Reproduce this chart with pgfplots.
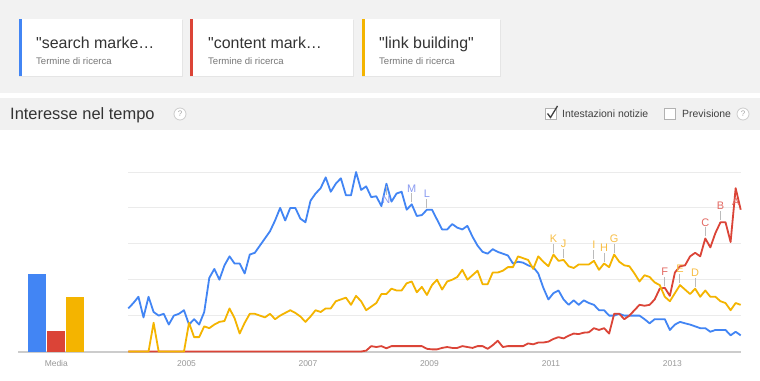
\documentclass[border=0pt]{standalone}
\usepackage{pgfplots}
\pgfplotsset{compat=1.18}
\usepackage{pgfplotstable}
\usepackage{fontspec}
\setmainfont{Liberation Sans}
\newcommand\sq{\XeTeXglyph\XeTeXcharglyph"22\relax}
\definecolor{gblue}{HTML}{4285F4}
\definecolor{gred}{HTML}{DB4437}
\definecolor{gyellow}{HTML}{F4B400}
\definecolor{bgtop}{HTML}{F2F2F2}
\definecolor{band}{HTML}{F1F1F1}
\definecolor{gridc}{HTML}{EBEBEB}
\definecolor{axisc}{HTML}{CCCCCC}
\definecolor{tickc}{HTML}{999999}
\definecolor{lblue}{HTML}{8A9BF2}
\definecolor{lyellow}{HTML}{F8BE45}
\definecolor{lred}{HTML}{E36A63}
\definecolor{stemc}{HTML}{BBBBBB}
\definecolor{txtdark}{HTML}{333333}
\definecolor{txtgray}{HTML}{777777}

\pgfplotstableread{
i b r y
0 24 0 0
1 27 0 0
2 30.5 0 0
3 19 0 0
4 30.5 0 0
5 22 0 16
6 20 0 0
7 21 0 0
8 15 0 0
9 20 0 0
10 21 0 0
11 23 0 0
12 15 0 16
13 18 0 8
14 15 0 8
15 22 0 14
16 41 0 13
17 46 0 15
18 40 0 16.5
19 48 0 17
20 53 0 24
21 49 0 18.5
22 49 0 10
23 43.5 0 16
24 54 0 21
25 55 0 21
26 59 0 20
27 63 0 19
28 67 0 21
29 73 0 18
30 80 0 20
31 73 0 21.5
32 80 0 23
33 80 0 21.5
34 74 0 19.5
35 72 0 16.5
36 84 0 19.5
37 88 0 23
38 91 0 22
39 97 0 24
40 89 0 24
41 93.5 0 28
42 96.5 0 29
43 87 0 30
44 87 0 26
45 100 0 31
46 90 0 28
47 92 0.5 23
48 86 3 25
49 86.5 2.5 27
50 81 3 32
51 93.5 1.8 32
52 83.5 3 35
53 88 3 34
54 89 3 34
55 79 3 38
56 82 3 39
57 75.5 3 33
58 76 3 36
59 79 1.5 31.5
60 79 1.2 37
61 73.5 1.2 40
62 68 2 34.5
63 68 2.5 39
64 71 2 40
65 69 2 41.5
66 68 3 45.5
67 70 2.5 40
68 64 2 42.5
69 59 3 45
70 55.5 3 37.5
71 54.5 1.5 37.5
72 57 3.5 44
73 55.5 6 44
74 54.5 2.5 45
75 53.5 3 47
76 49 3 47
77 50 3 53
78 49.5 3 52
79 48 4.5 51
80 47 4 46
81 43.5 5 53
82 35.5 5 50
83 29 5.5 47.5
84 32.5 7 54
85 34 8 50.5
86 29 7.3 51
87 26 8.8 47.5
88 28.5 10 46.5
89 26 9.7 48.5
90 28.5 10.5 48.5
91 27 10.7 48.5
92 26 13 50.5
93 23 12 45.5
94 23 13 49
95 20 10 47
96 20 21 54
97 21 21 50
98 20 18 48
99 20 20 47.5
100 20 23 43.5
101 20 26 39
102 18 25.5 42.5
103 15.7 26 41.5
104 18 29 38.5
105 18 35 37
106 18 35.5 30.5
107 12 31 28
108 15 44 32.5
109 16.5 47.5 37
110 15.7 48 34.5
111 15 53 32
112 14 55 35
113 13 53 30.5
114 13 63 34
115 11 58 30.5
116 12 66 30.5
117 12 72 28
118 12 72 27
119 9 61 23
120 11 91 27
121 9 79 26
}\trends

\begin{document}
\begin{tikzpicture}[x=1bp,y=1bp]
\path[use as bounding box] (0,0) rectangle (760,380);
\fill[white] (0,0) rectangle (760,380);
% header background
\fill[bgtop] (0,380) rectangle (760,287);
\fill[band] (0,282) rectangle (760,250);
% cards
\foreach \xa/\xb/\c in {19/182/gblue,190/353/gred,362/500/gyellow}{
  \fill[black!10] (\xa,360) rectangle (\xb+0.7,302.8);
  \fill[white] (\xa,361) rectangle (\xb,304);
  \fill[\c] (\xa,361) rectangle (\xa+3,304);
}
\node[anchor=base west,inner sep=0,font=\fontsize{16}{16}\selectfont,text=txtdark] at (36,331.5) {\sq search marke…};
\node[anchor=base west,inner sep=0,font=\fontsize{16}{16}\selectfont,text=txtdark] at (208,331.5) {\sq content mark…};
\node[anchor=base west,inner sep=0,font=\fontsize{16}{16}\selectfont,text=txtdark] at (379,331.5) {\sq link building\sq};
\foreach \xx in {36,208,379}{
  \node[anchor=base west,inner sep=0,font=\fontsize{9.6}{10}\selectfont,text=txtgray] at (\xx,316) {Termine di ricerca};
}
% title band
\node[anchor=base west,inner sep=0,font=\fontsize{16.5}{17}\selectfont,text=txtdark] at (10,260.5) {Interesse nel tempo};
\foreach \cx in {180,743}{
  \draw[axisc,fill=white,line width=0.8bp] (\cx,266) circle (6);
  \node[font=\fontsize{8}{8}\selectfont,text=black!35,inner sep=0] at (\cx,266) {?};
}
\draw[black!30,fill=white,line width=0.8bp] (545.5,271.5) rectangle (556.5,260.5);
\draw[black!75,line width=1.3bp] (547.5,266.5) -- (550.5,262.5) -- (557.5,274);
\node[anchor=base west,inner sep=0,font=\fontsize{10.5}{11}\selectfont,text=black!75] at (562,262.3) {Intestazioni notizie};
\draw[black!30,fill=white,line width=0.8bp] (664.5,271.5) rectangle (675.5,260.5);
\node[anchor=base west,inner sep=0,font=\fontsize{10.5}{11}\selectfont,text=black!75] at (682,262.3) {Previsione};
% baseline
\draw[axisc,line width=2bp] (18,28.3) -- (741,28.3);

% average bars
\begin{axis}[at={(27.8bp,28.5bp)},anchor=south west,scale only axis,
  width=57bp,height=179.5bp,xmin=-0.5,xmax=2.5,ymin=0,ymax=100,
  axis line style={draw=none},ytick=\empty,xtick={1},xticklabels={Media},
  tick style={draw=none},major tick length=0pt,
  xticklabel style={font=\fontsize{8.5}{10}\selectfont,text=tickc,yshift=-5.5bp}]
\addplot[ybar,bar width=18bp,bar shift=0pt,fill=gblue,draw=none] coordinates {(0,43)};
\addplot[ybar,bar width=18bp,bar shift=0pt,fill=gred,draw=none] coordinates {(1,11.4)};
\addplot[ybar,bar width=18bp,bar shift=0pt,fill=gyellow,draw=none] coordinates {(2,30.2)};
\end{axis}

% main chart
\begin{axis}[at={(128.3bp,28.5bp)},anchor=south west,scale only axis,
  width=612.4bp,height=179.5bp,xmin=0,xmax=121,ymin=0,ymax=100,clip=false,
  axis line style={draw=none},
  ytick={20,40,60,80,100},yticklabels={},ymajorgrids,
  major grid style={gridc,line width=1bp},
  xtick={11.5,35.5,59.5,83.5,107.5},xticklabels={2005,2007,2009,2011,2013},
  tick style={draw=none},major tick length=0pt,
  xticklabel style={font=\fontsize{8.5}{10}\selectfont,text=tickc,yshift=-5.5bp}]
\addplot[gblue,line width=1.8bp,no marks,line join=round] table[x=i,y=b] {\trends};
\addplot[gred,line width=1.8bp,no marks,line join=round] table[x=i,y=r] {\trends};
\addplot[gyellow,line width=1.8bp,no marks,line join=round] table[x=i,y=y] {\trends};
% annotations
\draw[stemc,line width=1bp] (axis cs:56,82) ++(0,2bp) -- ++(0,9bp) node[anchor=south,inner sep=0.8bp,text=lblue,font=\fontsize{11}{11}\selectfont]{M};
\draw[stemc,line width=1bp] (axis cs:59,79) ++(0,2bp) -- ++(0,9bp) node[anchor=south,inner sep=0.8bp,text=lblue,font=\fontsize{11}{11}\selectfont]{L};
\draw[stemc,line width=1bp] (axis cs:51,93.5) ++(0,-2bp) -- ++(0,-9bp) node[anchor=north,inner sep=0.8bp,text=lblue,font=\fontsize{11}{11}\selectfont]{N};
\draw[stemc,line width=1bp] (axis cs:84,54) ++(0,2bp) -- ++(0,9bp) node[anchor=south,inner sep=0.8bp,text=lyellow,font=\fontsize{11}{11}\selectfont]{K};
\draw[stemc,line width=1bp] (axis cs:86,51) ++(0,2bp) -- ++(0,9bp) node[anchor=south,inner sep=0.8bp,text=lyellow,font=\fontsize{11}{11}\selectfont]{J};
\draw[stemc,line width=1bp] (axis cs:92,50.5) ++(0,2bp) -- ++(0,9bp) node[anchor=south,inner sep=0.8bp,text=lyellow,font=\fontsize{11}{11}\selectfont]{I};
\draw[stemc,line width=1bp] (axis cs:94,49) ++(0,2bp) -- ++(0,9bp) node[anchor=south,inner sep=0.8bp,text=lyellow,font=\fontsize{11}{11}\selectfont]{H};
\draw[stemc,line width=1bp] (axis cs:96,54) ++(0,2bp) -- ++(0,9bp) node[anchor=south,inner sep=0.8bp,text=lyellow,font=\fontsize{11}{11}\selectfont]{G};
\draw[stemc,line width=1bp] (axis cs:109,37) ++(0,2bp) -- ++(0,9bp) node[anchor=south,inner sep=0.8bp,text=lyellow,font=\fontsize{11}{11}\selectfont]{E};
\draw[stemc,line width=1bp] (axis cs:112,35) ++(0,2bp) -- ++(0,9bp) node[anchor=south,inner sep=0.8bp,text=lyellow,font=\fontsize{11}{11}\selectfont]{D};
\draw[stemc,line width=1bp] (axis cs:106,35.5) ++(0,2bp) -- ++(0,9bp) node[anchor=south,inner sep=0.8bp,text=lred,font=\fontsize{11}{11}\selectfont]{F};
\draw[stemc,line width=1bp] (axis cs:114,63) ++(0,2bp) -- ++(0,9bp) node[anchor=south,inner sep=0.8bp,text=lred,font=\fontsize{11}{11}\selectfont]{C};
\draw[stemc,line width=1bp] (axis cs:117,72) ++(0,2bp) -- ++(0,9bp) node[anchor=south,inner sep=0.8bp,text=lred,font=\fontsize{11}{11}\selectfont]{B};
\node[anchor=north,inner sep=0.8bp,text=lred,font=\fontsize{11}{11}\selectfont] at ([yshift=-9bp]axis cs:120,91) {A};
\end{axis}
\end{tikzpicture}
\end{document}
